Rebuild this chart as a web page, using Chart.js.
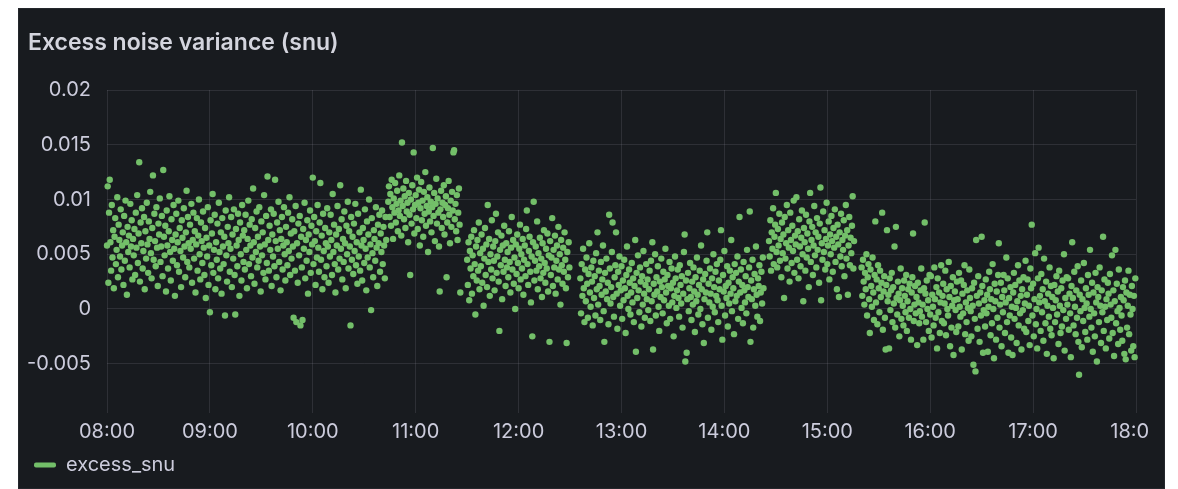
<!DOCTYPE html>
<html>
<head>
<meta charset="utf-8">
<title>Excess noise variance (snu)</title>
<script src="https://cdn.jsdelivr.net/npm/chart.js@4.4.1/dist/chart.umd.min.js"></script>
<style>
  html, body { margin: 0; padding: 0; background: #fff; }
  #panel {
    position: absolute; left: 18px; top: 8px; width: 1147px; height: 481px;
    background: #181b1f; overflow: hidden;
    box-shadow: inset 0 0 0 1px rgba(204, 204, 220, 0.07);
  }
  #panel canvas { position: absolute; left: 0; top: 0; }
</style>
</head>
<body>
<div id="panel"><canvas id="noise-chart" width="1131" height="481"></canvas></div>
<script>
// excess noise variance — grafana-style scatter of excess_snu readings

const SAMPLE_MIN = 0.4; // one reading every 24 s
const SCALE = 1e4;      // values below are in units of 1e-4 snu

const xTickLabels = ['08:00','09:00','10:00','11:00','12:00','13:00','14:00','15:00','16:00','17:00','18:00'];
const yTicks = [-0.005, 0, 0.005, 0.01, 0.015, 0.02];

// each run: first reading time + readings
const run1Start = '08:00';
const run1 = [
  58,112,24,88,118,61,35,95,47,72,19,66,83,41,54,102,29,77,63,48,
  91,36,58,70,22,85,44,99,61,13,75,52,67,38,96,57,81,27,64,49,
  73,31,88,56,104,42,69,134,25,79,60,92,37,53,84,18,71,46,97,59,
  33,80,64,107,51,28,74,122,45,87,62,39,93,56,21,78,68,101,43,57,
  85,30,127,66,49,76,16,90,58,37,71,103,52,26,82,63,44,95,55,12,
  68,87,40,61,99,34,74,53,20,81,65,47,92,57,29,70,108,43,84,60,
  38,77,55,96,24,63,88,46,71,15,59,83,35,67,100,50,27,79,62,42,
  89,56,31,74,10,65,48,93,22,58,-3,81,40,69,105,33,54,86,18,61,
  45,78,28,97,52,37,70,14,83,57,41,66,-6,90,49,25,75,60,102,34,
  55,84,20,68,46,91,31,-5,73,58,39,87,63,12,79,50,26,95,67,43,
  72,36,86,54,19,64,99,41,77,58,30,82,47,110,61,23,74,52,89,38,
  66,44,93,57,16,80,49,70,33,104,59,27,85,42,121,63,35,76,54,91,
  21,68,48,87,39,118,62,29,79,55,98,43,72,17,64,84,36,58,93,50,
  26,75,61,40,88,53,102,31,69,46,82,57,-8,71,35,94,-12,60,24,78,
  49,85,-15,66,38,-10,73,55,97,28,63,44,81,14,68,52,90,33,76,59,
  120,41,84,62,22,71,47,95,56,34,79,115,45,67,18,87,53,29,74,60,
  39,92,57,24,70,48,86,63,31,105,52,77,41,15,68,58,94,36,73,46,
  113,55,82,27,64,43,89,60,19,76,50,98,37,71,57,-15,84,45,66,32,
  78,53,96,40,61,23,87,48,70,35,109,58,26,74,63,42,91,55,17,80,
  47,68,100,38,59,-1,83,51,29,72,64,44,93,56,21,77,60,86,34,69,
  52,90,41,75,58,28,84,63
];

const run2Start = '10:44';
const run2 = [
  98,112,84,105,76,118,93,64,101,88,115,79,96,108,71,90,122,85,99,67,
  152,94,110,82,103,74,117,89,97,61,106,86,31,100,78,113,91,143,69,95,
  104,83,120,73,97,109,58,92,116,81,99,66,107,87,125,76,94,102,52,89,
  111,80,98,70,93,147,85,106,62,96,119,78,101,88,57,16,91,108,74,97,
  84,113,68,95,103,29,79,92,117,86,60,99,75,107,90,143,145,82,96,71,
  104,63,88,110,77,15
];

const run3Start = '11:30';
const run3 = [
  45,22,61,8,53,37,66,14,49,30,72,41,-5,57,26,63,35,79,18,51,
  39,68,24,55,3,46,74,31,59,20,95,43,64,12,50,36,81,28,57,44,
  17,62,87,33,48,70,25,-20,54,40,67,9,58,34,76,45,21,60,38,52,
  29,71,43,15,56,84,36,63,23,47,0,59,32,68,42,19,55,77,27,50,
  37,64,13,45,58,30,73,90,41,22,53,66,34,6,48,-25,61,98,26,44,
  57,35,80,18,51,39,65,28,46,11,60,33,72,42,24,55,37,69,16,49,
  -30,62,31,47,83,21,54,38,67,14,44,58,27,75,36,50,4,63,40,23,
  56,34,70,45,19,-31,52,29,61,38
];

const run4Start = '12:36';
const run4 = [
  28,-4,41,12,55,19,-12,36,7,47,23,-8,32,60,15,2,38,25,-15,44,
  10,30,-6,51,18,70,4,35,21,-10,43,13,27,58,-2,-30,33,16,46,9,
  24,-14,86,37,5,20,52,79,11,-7,29,40,70,14,-18,34,22,48,3,17,
  39,-9,26,8,45,19,-22,31,57,12,0,36,24,-5,15,42,6,28,-12,21,
  63,-39,33,10,49,17,-3,38,25,-16,30,4,53,14,-8,22,41,9,27,-1,
  18,35,-11,44,7,61,-37,23,13,50,-6,29,16,39,2,-20,25,11,46,20,
  -4,34,8,27,55,15,-13,31,21,3,43,-9,19,37,6,24,-25,12,48,28,
  1,17,36,10,-7,40,22,5,30,-17,14,52,68,-48,26,-40,9,33,-2,19,
  42,11,-10,25,4,38,16,-21,29,7,47,13,-5,22,35,0,58,18,-14,27,
  -31,9,32,15,44,70,-8,23,6,37,14,-19,28,2,50,20,-3,34,12,41,
  8,-12,26,18,45,72,3,-28,31,16,53,-6,21,10,39,-16,24,5,35,14,
  63,-2,29,19,-23,41,7,33,12,48,-9,25,84,15,36,1,22,-13,43,17,
  6,30,-4,54,20,11,38,89,-30,26,9,45,-17,18,32,3,57,13,-7,28,
  21,40,-11,15,34,5,47,19
];

const run5Start = '14:26';
const run5 = [
  62,48,81,35,70,55,92,41,66,77,106,52,38,73,58,87,44,64,29,79,
  51,68,10,84,46,60,95,37,72,56,25,88,63,42,76,53,99,33,67,59,
  102,45,71,28,82,57,39,65,90,50,7,74,61,35,86,47,69,55,20,80,
  106,43,63,75,31,58,94,49,70,38,83,54,66,24,78,111,8,60,45,89,
  52,72,36,64,97,41,58,80,27,68,50,85,62,34,74,56,91,43,66,18,
  77,59,11,70,48,87,39,63,54,81,30,67,95,46,72,13,58,84,40,65,
  51,76,103,37,62
];

const run6Start = '15:20';
const run6 = [
  38,12,45,25,4,33,18,50,-6,29,41,9,-22,36,21,2,47,15,-10,31,
  80,6,27,-14,40,19,-3,35,11,24,88,-19,16,30,-8,-37,22,72,7,13,
  -36,28,-1,17,33,-12,20,5,57,-17,75,10,-5,25,14,-25,8,37,-9,19,
  3,-15,26,12,-3,31,-20,7,18,-8,23,0,-28,15,29,69,-11,4,21,-4,
  11,-33,24,6,-13,-2,17,37,-7,4,-28,19,79,14,-12,26,0,8,-20,31,
  -5,30,-26,13,2,-15,38,9,-8,20,-36,28,-3,15,-22,6,40,-11,12,23,
  -13,5,35,-24,18,0,-6,43,11,-34,21,-17,3,29,-42,8,16,-1,-21,25,
  9,-16,33,2,-7,26,-37,14,-4,22,40,-23,6,-12,17,1,-29,36,10,-2,
  -25,19,3,-51,24,-9,-57,63,12,-18,30,5,-30,15,-6,66,21,-40,-1,8,
  -16,27,-4,13,-39,2,34,18,-24,9,-13,41,0,-45,23,7,-28,16,-8,31,
  60,-17,4,24,-34,11,-3,31,17,-22,6,47,-12,28,-40,10,-6,20,-26,2,
  -42,15,33,-9,22,1,-31,7,40,-15,26,-4,12,-37,18,-1,29,-18,5,44,
  -21,13,27,-11,3,-33,37,19,77,-6,23,-25,9,51,-14,0,-36,28,56,6,
  12,-20,32,-3,18,-29,46,7,-13,25,-41,3,14,-7,38,-18,21,-24,11,1,
  -45,22,-12,8,30,-5,16,-32,35,3,-22,19,-16,26,-1,50,-38,10,-9,29,
  4,28,-19,14,-4,-44,21,61,10,-15,34,2,-23,17,-8,39,-30,-60,13,-2,
  26,-35,9,-11,42,1,-21,19,5,-28,31,13,-7,54,0,-17,24,-39,15,-4,
  -25,33,6,-48,20,11,-12,38,3,-31,17,-3,66,-20,27,2,-36,9,-10,24,
  14,-27,32,4,-8,49,-22,17,-43,7,54,-13,23,-2,-32,36,1,-19,11,-6,
  -29,20,8,-41,26,-46,15,-17,3,35,-23,13,-5,-38,21,0,-34,12,-44,28
];

const runs = [
  [run1Start, run1], [run2Start, run2], [run3Start, run3],
  [run4Start, run4], [run5Start, run5], [run6Start, run6]
];

// minutes since 08:00
function minutesOf(hhmm) {
  const [h, m] = hhmm.split(':').map(Number);
  return (h - 8) * 60 + m;
}

const points = [];
runs.forEach(([start, vals]) => {
  const t0 = minutesOf(start);
  vals.forEach((v, i) => points.push({ x: t0 + i * SAMPLE_MIN, y: v / SCALE }));
});

const FONT = 'Inter, "Noto Sans", sans-serif';
const TEXT = '#ccccdc';
const GRID = 'rgba(204,204,220,0.12)';
const GREEN = '#73bf69';

const ctx = document.getElementById('noise-chart');

new Chart(ctx, {
  type: 'scatter',
  data: {
    datasets: [{
      label: 'excess_snu',
      data: points,
      backgroundColor: GREEN,
      borderColor: GREEN,
      borderWidth: 0,
      pointRadius: 3.2,
      pointHoverRadius: 3.2,
      clip: false
    }]
  },
  options: {
    responsive: false,
    animation: false,
    devicePixelRatio: 1,
    events: [],
    layout: { padding: { left: 10, right: 13, top: 0, bottom: 4 } },
    plugins: {
      title: {
        display: true,
        text: 'Excess noise variance (snu)',
        align: 'start',
        color: '#d4d5de',
        font: { family: FONT, size: 23, weight: '600' },
        padding: { top: 21, bottom: 33.4 }
      },
      legend: {
        position: 'bottom',
        align: 'start',
        labels: {
          color: TEXT,
          font: { family: FONT, size: 20 },
          boxWidth: 22,
          boxHeight: 5,
          padding: 6,
          useBorderRadius: true,
          borderRadius: 2
        }
      },
      tooltip: { enabled: false }
    },
    scales: {
      x: {
        type: 'linear',
        min: 0,
        max: 600,
        afterFit: s => { s.paddingLeft = 0; s.paddingRight = 0; s.height = 36; },
        ticks: {
          stepSize: 60,
          autoSkip: false,
          maxRotation: 0,
          padding: 7,
          color: TEXT,
          font: { family: FONT, size: 20 },
          callback: v => xTickLabels[v / 60] ?? ''
        },
        grid: { color: GRID, drawTicks: false },
        border: { display: false }
      },
      y: {
        min: -0.0095,
        max: 0.02,
        afterFit: s => { s.width = 79; s.paddingTop = 0; s.paddingBottom = 0; },
        afterBuildTicks: s => { s.ticks = yTicks.map(v => ({ value: v })); },
        ticks: {
          padding: 16,
          color: TEXT,
          font: { family: FONT, size: 20 },
          callback: v => String(+v.toFixed(4))
        },
        grid: { color: GRID, drawTicks: false },
        border: { display: false }
      }
    }
  }
});
</script>
</body>
</html>
